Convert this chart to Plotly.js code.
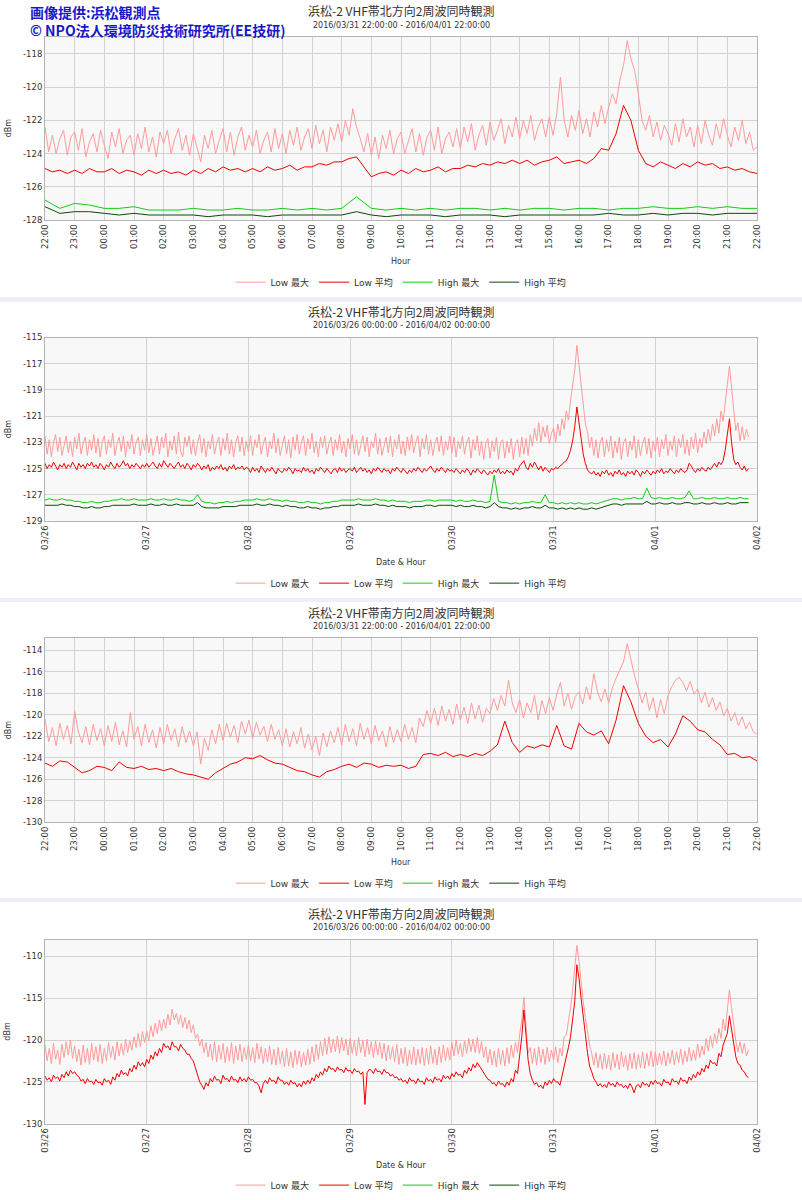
<!DOCTYPE html>
<html>
<head>
<meta charset="utf-8">
<script src="https://cdn.plot.ly/plotly-3.0.1.min.js"></script>
<style>
  body { margin: 0; background: #fff; width: 802px; }
  .panel { width: 802px; }
  .gap { width: 802px; background: #eeeef8; }
</style>
</head>
<body>
<div id="page"></div>
<script>
// legend names, same four in every panel
var seriesNames = ['Low 最大', 'Low 平均', 'High 最大', 'High 平均'];
var seriesColors = ['#ff9a9a', '#ee0000', '#11cc11', '#0a4a0a'];

var panelTitles = [
    '浜松-2 VHF帯北方向2周波同時観測',
    '浜松-2 VHF帯北方向2周波同時観測',
    '浜松-2 VHF帯南方向2周波同時観測',
    '浜松-2 VHF帯南方向2周波同時観測'
];
var panelPeriods = [
    '2016/03/31 22:00:00 - 2016/04/01 22:00:00',
    '2016/03/26 00:00:00 - 2016/04/02 00:00:00',
    '2016/03/31 22:00:00 - 2016/04/01 22:00:00',
    '2016/03/26 00:00:00 - 2016/04/02 00:00:00'
];
var xTitles = ['Hour', 'Date & Hour', 'Hour', 'Date & Hour'];

// ---- panel 1 : north, one day from 22:00 ----
// Low max every 7.5 min (one row = one hour)
var p1LowMax = [
    -122.4, -123.9, -122.9, -124.0, -123.1, -122.6, -124.1, -123.0,
    -122.7, -123.8, -122.5, -124.2, -123.3, -122.8, -123.9, -122.6,
    -123.5, -124.3, -122.7, -123.6, -122.5, -124.0, -123.2, -122.9,
    -124.1, -122.8, -123.7, -122.4, -123.9, -123.0, -124.2, -122.7,
    -123.4, -122.6, -124.0, -123.1, -122.5, -123.8, -122.9, -124.1,
    -122.8, -123.6, -124.5, -122.9, -123.7, -122.6, -124.0, -123.2,
    -122.5, -123.9, -122.7, -124.1, -123.0, -122.4, -123.8, -122.9,
    -123.6, -122.6, -124.0, -123.2, -122.7, -123.9, -122.5, -123.7,
    -122.8, -124.0, -122.6, -123.5, -122.4, -123.8, -123.0, -122.5,
    -123.7, -122.3, -123.4, -122.6, -123.9, -122.4, -123.2, -122.2,
    -123.3, -122.0, -122.9, -121.3, -122.4, -123.1, -123.9, -122.8,
    -124.1, -123.0, -124.3, -122.9, -123.7, -122.6, -124.0, -123.1,
    -122.7, -124.0, -123.2, -122.5, -123.9, -122.8, -124.1, -123.0,
    -122.6, -123.8, -122.4, -124.0, -123.1, -122.7, -123.6, -122.5,
    -123.7, -122.4, -123.3, -122.2, -123.8, -122.9, -122.3, -123.5,
    -122.1, -123.2, -122.6, -121.9, -123.4, -122.3, -123.0, -121.8,
    -123.1, -122.0, -122.8, -121.7, -123.2, -122.4, -121.9, -123.0,
    -121.8, -122.9, -121.6, -119.4, -122.0, -123.0, -121.7, -122.6,
    -121.4, -122.8, -121.9, -123.0, -121.5, -122.4, -121.1, -122.2,
    -121.2, -120.4, -121.0, -119.6, -118.7, -117.2, -118.3, -119.0,
    -120.4, -122.0, -122.6, -121.7, -123.0, -122.1, -123.2, -122.3,
    -122.8, -123.5, -122.2, -123.3, -121.9, -123.0, -122.4, -123.6,
    -122.3, -123.4, -122.0, -122.9, -123.5, -122.2, -123.1, -121.9,
    -122.9, -123.6, -122.4, -123.2, -122.0, -123.4, -122.7, -123.8,
    -123.6
];
// Low average every 15 min
var p1LowAvg = [
    -124.9, -125.1, -125.0, -125.2, -125.0, -125.2, -124.9, -125.1,
    -125.1, -124.9, -125.2, -125.0, -125.1, -125.3, -125.0, -125.2,
    -125.0, -125.2, -125.1, -125.3, -125.0, -125.2, -124.9, -125.1,
    -124.8, -125.0, -124.9, -125.1, -124.9, -125.1, -124.8, -125.0,
    -124.9, -124.7, -125.0, -124.8, -124.8, -124.6, -124.7, -124.5,
    -124.5, -124.3, -124.2, -124.8, -125.4, -125.2, -125.1, -125.3,
    -125.0, -125.2, -124.9, -125.1, -125.0, -124.8, -125.1, -124.9,
    -124.9, -124.7, -124.8, -124.6, -124.7, -124.5, -124.6, -124.4,
    -124.6, -124.4, -124.7, -124.5, -124.4, -124.2, -124.6, -124.5,
    -124.4, -124.6, -124.3, -123.7, -123.8, -122.8, -121.1, -122.0,
    -123.8, -124.6, -124.8, -124.5, -124.7, -124.9, -124.6, -124.8,
    -124.5, -124.7, -124.6, -124.9, -124.8, -125.0, -124.9, -125.1,
    -125.2
];
// High series every 30 min
var p1HighMax = [
    -126.8, -127.3, -127.0, -127.1, -127.3, -127.3, -127.2, -127.4,
    -127.4, -127.4, -127.3, -127.4, -127.4, -127.3, -127.4, -127.4,
    -127.3, -127.4, -127.3, -127.4, -127.3, -126.6, -127.3, -127.4,
    -127.3, -127.4, -127.3, -127.4, -127.3, -127.3, -127.4, -127.3,
    -127.4, -127.3, -127.3, -127.4, -127.3, -127.3, -127.4, -127.3,
    -127.3, -127.2, -127.3, -127.3, -127.2, -127.3, -127.2, -127.3,
    -127.3
];
var p1HighAvg = [
    -127.2, -127.6, -127.5, -127.5, -127.6, -127.7, -127.6, -127.7,
    -127.7, -127.7, -127.7, -127.8, -127.7, -127.7, -127.7, -127.8,
    -127.7, -127.7, -127.7, -127.7, -127.7, -127.5, -127.7, -127.8,
    -127.7, -127.7, -127.7, -127.8, -127.7, -127.7, -127.7, -127.8,
    -127.7, -127.7, -127.7, -127.7, -127.7, -127.7, -127.6, -127.7,
    -127.7, -127.6, -127.7, -127.6, -127.6, -127.7, -127.6, -127.6,
    -127.6
];

// ---- panel 2 : north, one week from 03/26 00:00 ----
// Low series every 30 min (four rows = one day)
var p2LowMax = [
    -122.5, -123.9, -122.8, -124.1, -123.0, -122.4, -123.7, -122.6, -124.0, -123.2, -122.5, -123.8,
    -122.9, -124.1, -122.6, -123.5, -122.3, -123.9, -123.1, -122.6, -124.0, -122.8, -123.6, -122.4,
    -123.8, -122.7, -124.1, -123.0, -122.5, -123.9, -122.8, -123.4, -122.3, -124.0, -123.1, -122.6,
    -123.7, -122.5, -124.1, -122.9, -123.5, -122.4, -123.9, -123.0, -122.6, -124.0, -122.8, -123.6,
    -122.4, -123.8, -122.7, -124.0, -123.1, -122.5, -123.9, -122.6, -123.4, -122.3, -124.1, -122.9,
    -123.6, -122.5, -123.9, -122.2, -123.7, -124.1, -122.6, -123.3, -122.5, -123.9, -122.8, -124.0,
    -123.0, -122.4, -123.8, -122.7, -124.1, -122.9, -123.5, -122.4, -123.9, -123.1, -122.6, -124.0,
    -122.7, -123.6, -122.3, -123.9, -122.8, -124.1, -123.0, -122.5, -123.7, -122.6, -124.0, -122.9,
    -123.7, -122.5, -124.0, -122.8, -123.4, -122.4, -123.9, -123.1, -122.6, -124.1, -122.9, -123.5,
    -122.3, -123.8, -122.7, -124.0, -123.2, -122.5, -123.9, -122.8, -124.2, -122.6, -123.6, -122.4,
    -123.9, -123.0, -122.5, -124.0, -122.7, -123.5, -122.3, -123.8, -122.9, -124.1, -122.6, -123.4,
    -122.5, -123.9, -123.1, -122.6, -124.0, -122.8, -123.6, -122.4, -123.8, -122.9, -124.1, -122.7,
    -123.5, -122.4, -123.9, -122.8, -124.0, -123.1, -122.5, -123.7, -122.6, -124.1, -122.9, -123.4,
    -122.3, -123.9, -122.7, -124.0, -123.2, -122.6, -123.8, -122.5, -124.1, -122.8, -123.5, -122.4,
    -123.9, -122.9, -124.0, -122.6, -123.6, -122.4, -123.8, -123.0, -122.5, -124.1, -122.7, -123.5,
    -122.4, -123.9, -122.8, -124.0, -123.1, -122.6, -123.7, -122.5, -124.0, -122.9, -123.6, -122.5,
    -123.8, -122.6, -124.1, -122.9, -123.5, -122.5, -123.9, -123.0, -122.6, -124.2, -122.8, -123.6,
    -122.5, -124.0, -122.9, -124.3, -123.1, -122.7, -124.2, -122.9, -123.7, -122.6, -124.3, -123.0,
    -122.8, -124.2, -122.9, -123.8, -122.7, -124.3, -123.1, -122.8, -124.1, -122.6, -123.9, -122.7,
    -124.0, -122.4, -123.3, -121.9, -122.9, -121.5, -123.0, -121.8, -122.6, -121.7, -123.1, -122.3,
    -121.9, -123.0, -121.6, -122.5, -121.2, -122.0, -120.6, -121.3, -119.8, -118.6, -117.5, -115.6,
    -117.2, -118.8, -120.4, -121.6, -122.2, -123.4, -122.6, -124.0, -122.8, -124.2, -123.0, -122.6,
    -124.1, -122.8, -123.7, -122.5, -124.2, -122.9, -123.8, -122.6, -124.3, -123.0, -122.7, -124.1,
    -122.9, -123.6, -122.5, -124.2, -122.8, -124.0, -123.1, -122.6, -123.9, -122.7, -124.2, -122.9,
    -123.7, -122.6, -124.1, -122.8, -123.5, -122.4, -124.0, -122.9, -123.6, -122.5, -124.1, -122.7,
    -123.4, -122.4, -123.9, -122.8, -124.0, -122.6, -123.5, -122.3, -123.8, -122.7, -123.4, -122.2,
    -123.1, -122.0, -122.9, -121.6, -122.5, -121.2, -122.3, -120.6, -121.4, -119.8, -118.6, -117.2,
    -119.0, -120.9, -122.1, -121.5, -122.9, -121.8, -122.8, -122.0, -122.6
];
var p2LowAvg = [
    -124.6, -125.0, -124.7, -124.9, -124.5, -124.8, -125.1, -124.7, -124.9, -124.6, -125.0, -124.7,
    -124.9, -124.5, -124.8, -125.1, -124.6, -124.9, -124.7, -125.0, -124.6, -124.8, -124.5, -124.9,
    -124.7, -125.0, -124.6, -124.8, -125.1, -124.7, -124.9, -124.5, -124.8, -125.0, -124.6, -124.9,
    -124.7, -124.4, -124.8, -124.6, -125.0, -124.7, -124.9, -124.6, -124.8, -125.0, -124.7, -124.9,
    -124.6, -124.9, -124.7, -124.5, -124.8, -125.0, -124.6, -124.9, -124.4, -124.7, -124.9, -124.6,
    -124.8, -125.0, -124.7, -124.5, -124.9, -124.7, -125.0, -124.6, -124.8, -125.1, -124.7, -124.9,
    -124.6, -124.8, -125.1, -124.8, -125.0, -124.7, -125.2, -124.9, -125.1, -124.8, -125.0, -124.7,
    -125.1, -124.9, -125.2, -124.8, -125.0, -124.7, -125.1, -124.9, -125.0, -124.8, -125.1, -124.9,
    -125.0, -125.3, -124.9, -125.2, -125.0, -125.3, -124.8, -125.1, -125.3, -125.0, -125.2, -124.9,
    -125.2, -125.4, -125.0, -125.2, -125.3, -125.0, -125.2, -124.9, -125.1, -125.4, -125.0, -125.2,
    -125.1, -125.3, -124.9, -125.2, -125.0, -125.3, -125.1, -125.4, -125.0, -125.2, -124.9, -125.1,
    -125.3, -125.0, -125.2, -125.4, -125.1, -125.0, -125.3, -124.9, -125.2, -125.0, -125.3, -125.1,
    -125.0, -125.2, -124.9, -125.3, -125.1, -124.9, -125.2, -125.0, -125.3, -125.1, -125.4, -125.0,
    -125.2, -124.9, -125.1, -125.3, -125.0, -125.2, -125.1, -125.4, -125.0, -125.2, -124.9, -125.1,
    -125.3, -125.0, -125.2, -125.4, -125.1, -125.3, -125.0, -125.2, -124.9, -125.1, -125.3, -125.0,
    -125.2, -125.0, -124.8, -125.1, -125.3, -125.0, -125.2, -124.9, -125.1, -125.3, -125.0, -125.2,
    -125.1, -125.3, -125.0, -125.2, -125.4, -125.1, -125.3, -125.0, -125.2, -125.5, -125.1, -125.3,
    -125.0, -125.2, -125.4, -125.1, -125.3, -125.5, -125.2, -125.4, -125.1, -125.3, -125.0, -125.4,
    -125.2, -125.4, -125.1, -125.3, -125.2, -125.5, -125.0, -125.2, -124.8, -124.6, -124.4, -124.9,
    -125.1, -124.6, -124.9, -124.5, -124.8, -125.1, -124.8, -125.2, -124.9, -125.1, -125.3, -125.0,
    -125.1, -124.9, -125.0, -124.8, -124.7, -124.5, -124.4, -124.1, -123.6, -122.9, -121.8, -120.3,
    -121.5, -122.8, -123.9, -124.6, -125.1, -125.3, -125.4, -125.2, -125.5, -125.3, -125.6, -125.2,
    -125.4, -125.1, -125.5, -125.3, -125.6, -125.2, -125.4, -125.1, -125.5, -125.3, -125.6, -125.2,
    -125.4, -125.2, -125.5, -125.1, -125.3, -125.6, -125.2, -125.4, -125.1, -125.3, -125.5, -125.2,
    -125.4, -125.1, -125.3, -125.0, -125.4, -125.2, -125.3, -125.0, -125.2, -125.4, -125.1, -125.3,
    -125.0, -125.2, -125.3, -125.1, -124.6, -124.8, -125.1, -125.3, -125.0, -125.2, -124.9, -125.1,
    -125.2, -124.9, -125.1, -124.8, -124.6, -124.9, -124.5, -124.7, -124.4, -123.6, -122.5, -121.2,
    -123.0, -124.3, -124.7, -124.5, -124.9, -125.1, -124.8, -125.2, -125.0
];
// High series every hour
var p2HighMax = [
    -127.4, -127.3, -127.4, -127.4, -127.3, -127.4, -127.4, -127.5, -127.5, -127.6, -127.6, -127.5,
    -127.6, -127.6, -127.5, -127.5, -127.4, -127.4, -127.3, -127.4, -127.4, -127.3, -127.4, -127.4,
    -127.4, -127.3, -127.4, -127.4, -127.3, -127.4, -127.4, -127.3, -127.4, -127.4, -127.5, -127.4,
    -127.0, -127.5, -127.6, -127.6, -127.7, -127.6, -127.6, -127.5, -127.6, -127.5, -127.5, -127.4,
    -127.4, -127.4, -127.3, -127.4, -127.4, -127.3, -127.4, -127.4, -127.5, -127.4, -127.5, -127.5,
    -127.6, -127.6, -127.5, -127.6, -127.6, -127.7, -127.6, -127.6, -127.5, -127.5, -127.4, -127.4,
    -127.4, -127.4, -127.3, -127.4, -127.4, -127.4, -127.3, -127.4, -127.4, -127.5, -127.4, -127.5,
    -127.5, -127.5, -127.6, -127.5, -127.5, -127.5, -127.4, -127.4, -127.5, -127.4, -127.4, -127.4,
    -127.4, -127.5, -127.4, -127.5, -127.5, -127.4, -127.5, -127.5, -127.6, -127.5, -125.5, -127.5,
    -127.6, -127.6, -127.7, -127.6, -127.7, -127.6, -127.6, -127.5, -127.6, -127.6, -127.0, -127.6,
    -127.6, -127.7, -127.6, -127.7, -127.6, -127.7, -127.6, -127.7, -127.7, -127.6, -127.7, -127.6,
    -127.5, -127.4, -127.3, -127.3, -127.4, -127.3, -127.3, -127.2, -127.3, -127.3, -126.5, -127.2,
    -127.3, -127.2, -127.3, -127.3, -127.2, -127.3, -127.3, -127.2, -126.7, -127.3, -127.3, -127.2,
    -127.3, -127.3, -127.2, -127.3, -127.3, -127.2, -127.3, -127.3, -127.2, -127.3, -127.3
];
var p2HighAvg = [
    -127.8, -127.8, -127.8, -127.8, -127.7, -127.8, -127.8, -127.9, -127.9, -128.0, -128.0, -127.9,
    -128.0, -128.0, -127.9, -127.9, -127.8, -127.8, -127.8, -127.8, -127.8, -127.7, -127.8, -127.8,
    -127.8, -127.7, -127.8, -127.8, -127.7, -127.8, -127.8, -127.7, -127.8, -127.8, -127.8, -127.8,
    -127.6, -127.9, -128.0, -128.0, -128.0, -128.0, -127.9, -127.9, -127.9, -127.9, -127.8, -127.8,
    -127.8, -127.8, -127.7, -127.8, -127.8, -127.7, -127.8, -127.8, -127.9, -127.8, -127.9, -127.9,
    -128.0, -128.0, -127.9, -128.0, -128.0, -128.1, -128.0, -128.0, -127.9, -127.9, -127.8, -127.8,
    -127.8, -127.8, -127.7, -127.8, -127.8, -127.8, -127.7, -127.8, -127.8, -127.9, -127.8, -127.9,
    -127.9, -127.9, -128.0, -127.9, -127.9, -127.9, -127.8, -127.8, -127.9, -127.8, -127.8, -127.8,
    -127.8, -127.9, -127.8, -127.9, -127.9, -127.8, -127.9, -127.9, -128.0, -127.9, -127.6, -127.9,
    -128.0, -128.0, -128.1, -128.0, -128.1, -128.0, -128.0, -127.9, -128.0, -128.0, -127.8, -128.0,
    -128.0, -128.1, -128.0, -128.1, -128.0, -128.1, -128.0, -128.1, -128.1, -128.0, -128.1, -128.0,
    -127.9, -127.8, -127.7, -127.7, -127.8, -127.7, -127.7, -127.7, -127.7, -127.7, -127.5, -127.7,
    -127.7, -127.6, -127.7, -127.7, -127.6, -127.7, -127.7, -127.6, -127.6, -127.7, -127.7, -127.6,
    -127.7, -127.7, -127.6, -127.7, -127.7, -127.6, -127.7, -127.7, -127.6, -127.6, -127.6
];

// ---- panel 3 : south, one day from 22:00 (no High data) ----
// Low max every 7.5 min (one row = one hour)
var p3LowMax = [
    -120.4, -122.5, -121.2, -122.9, -120.8, -122.3, -121.0, -122.7,
    -119.7, -121.6, -122.6, -121.1, -122.8, -120.9, -122.4, -121.3,
    -122.9, -121.0, -122.5, -120.7, -122.8, -121.5, -123.0, -119.8,
    -122.3, -121.1, -122.9, -120.9, -122.6, -121.4, -123.1, -121.2,
    -122.7, -120.9, -122.4, -121.3, -123.0, -121.1, -122.6, -121.5,
    -122.9, -121.6, -124.6, -122.2, -123.3, -121.4, -122.7, -120.9,
    -122.4, -120.8, -122.1, -121.0, -122.6, -120.6, -121.8, -120.5,
    -122.2, -120.7, -121.9, -121.1, -122.5, -120.9, -122.3, -121.4,
    -122.9, -121.3, -123.0, -121.6, -122.7, -121.2, -123.1, -121.8,
    -123.3, -122.0, -123.8, -121.7, -123.0, -121.5, -122.6, -121.2,
    -122.8, -120.9, -122.5, -121.3, -122.9, -120.8, -122.3, -121.2,
    -122.7, -121.0, -122.4, -121.5, -123.0, -121.1, -122.6, -121.4,
    -122.5, -120.9, -122.3, -121.2, -122.6, -120.3, -121.1, -119.6,
    -120.8, -119.4, -121.0, -119.2, -120.6, -119.5, -120.9, -119.0,
    -120.5, -119.3, -120.8, -118.9, -120.4, -119.1, -120.7, -119.4,
    -119.9, -118.5, -119.6, -118.2, -119.2, -116.8, -118.9, -119.8,
    -118.6, -120.3, -118.9, -119.8, -118.2, -120.5, -118.7, -119.9,
    -118.4, -119.6, -118.1, -117.0, -119.2, -118.0, -119.5, -118.3,
    -117.9, -119.0, -117.4, -118.6, -116.2, -117.9, -118.8, -117.6,
    -118.9, -117.5, -116.6, -115.8, -115.1, -113.4, -115.0, -116.4,
    -117.6, -118.9, -117.9, -119.6, -118.4, -120.3, -118.6, -119.9,
    -118.2, -117.4, -116.8, -116.5, -117.0, -117.8, -116.9, -118.1,
    -117.6, -118.9, -117.9, -119.3, -118.4, -119.6, -118.8, -120.1,
    -119.4, -120.6, -119.8, -121.0, -120.2, -121.3, -120.7, -121.6,
    -121.8
];
// Low average every 15 min
var p3LowAvg = [
    -124.5, -124.8, -124.3, -124.4, -124.9, -125.4, -125.2, -124.8,
    -124.9, -125.2, -124.4, -124.9, -125.0, -124.8, -125.1, -125.0,
    -125.2, -125.0, -125.3, -125.5, -125.6, -125.8, -126.0, -125.4,
    -125.0, -124.6, -124.4, -124.0, -124.1, -123.8, -124.2, -124.5,
    -124.6, -124.9, -125.2, -125.3, -125.6, -125.8, -125.3, -125.1,
    -124.8, -124.6, -124.9, -124.5, -124.6, -124.9, -124.7, -124.8,
    -124.7, -125.0, -124.8, -123.7, -123.6, -123.8, -123.5, -123.9,
    -123.7, -123.9, -123.6, -123.8, -123.4, -122.8, -120.6, -122.6,
    -123.5, -122.9, -123.1, -122.8, -123.0, -121.0, -122.9, -123.2,
    -120.8, -121.6, -121.9, -121.5, -122.7, -120.5, -117.3, -118.8,
    -120.8, -122.0, -122.6, -122.3, -123.0, -121.8, -120.1, -120.6,
    -121.4, -121.6, -122.3, -122.8, -123.7, -123.6, -124.0, -123.9,
    -124.3
];

// ---- panel 4 : south, one week from 03/26 00:00 (no High data) ----
// Low series every 30 min (four rows = one day)
var p4LowMax = [
    -120.6, -122.5, -121.0, -122.8, -120.4, -122.3, -121.2, -122.9, -120.5, -122.1, -120.2, -121.8,
    -120.0, -122.2, -120.7, -122.6, -121.1, -123.0, -120.6, -122.7, -121.0, -122.9, -120.4, -122.4,
    -120.8, -122.6, -120.5, -122.8, -121.0, -122.5, -120.3, -122.1, -120.7, -122.4, -120.2, -121.9,
    -120.4, -121.8, -119.9, -121.5, -120.1, -121.2, -119.6, -120.9, -119.2, -120.8, -119.0, -120.3,
    -118.9, -120.1, -118.3, -119.6, -118.0, -119.2, -117.6, -118.9, -117.5, -118.6, -116.9, -118.2,
    -116.3, -117.6, -116.8, -118.1, -117.0, -118.5, -117.3, -118.7, -117.6, -119.1, -118.2, -119.8,
    -119.3, -120.7, -119.9, -121.5, -120.3, -122.0, -120.5, -122.4, -120.2, -122.6, -120.6, -122.3,
    -120.4, -122.7, -120.8, -122.5, -120.3, -122.8, -120.7, -122.4, -120.5, -122.6, -120.9, -122.3,
    -120.6, -122.5, -120.9, -122.7, -120.4, -122.3, -120.8, -122.8, -121.0, -122.6, -120.7, -122.9,
    -121.1, -123.0, -120.9, -122.8, -121.3, -123.2, -121.0, -123.1, -121.4, -123.3, -121.2, -122.9,
    -121.3, -123.2, -121.5, -123.0, -121.1, -122.9, -120.8, -122.6, -120.5, -122.3, -120.2, -121.9,
    -119.8, -121.7, -119.6, -121.5, -119.9, -121.4, -119.5, -121.6, -119.7, -121.3, -119.9, -121.8,
    -119.8, -121.6, -120.1, -121.9, -119.7, -121.5, -120.0, -122.0, -119.9, -121.7, -120.2, -122.1,
    -120.1, -121.8, -120.3, -122.2, -120.4, -122.5, -120.6, -122.3, -120.8, -122.6, -120.5, -122.9,
    -121.0, -122.8, -120.9, -123.1, -121.2, -122.9, -120.8, -123.0, -121.1, -122.8, -120.9, -123.1,
    -121.0, -122.9, -120.7, -122.8, -121.1, -123.0, -120.8, -122.7, -120.6, -122.5, -120.9, -122.4,
    -120.3, -121.9, -120.0, -121.7, -120.4, -122.0, -120.1, -121.6, -119.8, -121.4, -119.9, -121.5,
    -119.7, -121.6, -120.2, -122.1, -120.8, -122.7, -121.1, -123.0, -121.3, -123.2, -121.0, -122.9,
    -121.2, -123.1, -120.9, -122.8, -120.6, -122.1, -120.3, -121.5, -119.4, -117.6, -114.9, -118.0,
    -121.6, -120.9, -122.8, -121.0, -123.0, -120.8, -122.7, -121.1, -122.9, -120.9, -122.6, -121.2,
    -122.4, -120.8, -122.7, -121.0, -121.9, -119.6, -119.4, -117.8, -116.2, -114.0, -111.4, -108.7,
    -110.6, -113.2, -115.4, -117.3, -118.9, -120.6, -121.6, -123.0, -121.5, -123.3, -121.7, -123.5,
    -121.6, -123.4, -121.8, -123.6, -121.5, -123.3, -121.7, -123.5, -121.4, -123.2, -121.8, -123.6,
    -121.6, -123.4, -121.5, -123.5, -121.7, -123.3, -121.4, -123.4, -121.6, -123.1, -121.3, -123.2,
    -121.4, -123.0, -121.6, -122.9, -121.3, -123.1, -121.5, -122.8, -121.2, -123.0, -121.4, -122.7,
    -121.1, -122.9, -121.3, -122.6, -120.9, -122.5, -121.2, -122.4, -120.5, -122.1, -120.7, -121.8,
    -119.8, -121.3, -119.5, -120.9, -119.2, -120.4, -118.6, -119.8, -117.5, -118.9, -116.4, -114.0,
    -116.2, -118.4, -120.1, -121.4, -120.2, -121.6, -120.4, -121.9, -121.2
];
var p4LowAvg = [
    -124.3, -124.8, -124.5, -125.0, -124.2, -124.6, -124.4, -124.9, -124.1, -124.5, -123.8, -124.3,
    -123.6, -124.0, -123.8, -124.2, -124.4, -124.9, -124.7, -125.2, -124.6, -125.0, -124.9, -125.3,
    -124.7, -125.1, -125.0, -125.4, -124.6, -125.0, -124.8, -125.3, -124.4, -124.8, -124.0, -124.4,
    -123.6, -124.1, -123.9, -124.3, -123.4, -123.8, -123.0, -123.5, -122.6, -123.1, -122.7, -123.2,
    -122.3, -122.8, -121.8, -122.3, -121.4, -121.9, -121.0, -121.5, -120.4, -120.9, -120.7, -121.2,
    -120.2, -120.8, -120.8, -121.3, -120.5, -121.0, -121.2, -121.7, -121.7, -122.2, -122.5, -123.3,
    -124.3, -125.0, -125.4, -125.9, -125.1, -125.5, -124.6, -125.0, -124.3, -124.8, -124.7, -125.2,
    -124.2, -124.7, -124.6, -125.0, -124.3, -124.8, -124.7, -125.1, -124.4, -124.9, -124.6, -125.0,
    -124.4, -124.8, -124.7, -125.1, -125.1, -125.5, -126.3, -125.2, -124.8, -125.2, -124.5, -124.9,
    -124.8, -125.2, -124.4, -124.8, -124.8, -125.3, -125.0, -125.4, -124.8, -125.2, -125.1, -125.6,
    -125.2, -125.6, -124.9, -125.3, -124.8, -125.2, -124.5, -124.9, -124.1, -124.5, -123.8, -124.2,
    -123.4, -123.8, -123.1, -123.5, -123.4, -123.8, -123.2, -123.6, -123.5, -123.9, -123.3, -123.7,
    -123.6, -124.0, -123.4, -123.8, -123.7, -124.1, -123.8, -127.7, -123.9, -123.5, -123.6, -124.0,
    -123.4, -123.8, -123.7, -124.1, -123.5, -123.9, -123.9, -124.3, -124.1, -124.5, -124.4, -124.8,
    -124.6, -125.0, -124.8, -125.2, -124.5, -124.9, -124.8, -125.2, -124.6, -125.0, -124.9, -125.3,
    -124.5, -124.9, -124.7, -125.1, -124.4, -124.8, -124.6, -125.0, -124.2, -124.6, -124.3, -124.7,
    -124.0, -124.4, -123.8, -124.2, -124.1, -124.5, -123.6, -124.0, -123.3, -123.7, -122.9, -123.3,
    -122.7, -123.1, -123.4, -123.9, -124.3, -124.7, -124.8, -125.2, -125.1, -125.5, -124.9, -125.3,
    -125.2, -125.6, -125.0, -125.4, -124.6, -125.0, -123.6, -124.0, -121.8, -119.6, -116.4, -119.5,
    -122.4, -124.0, -124.8, -125.3, -125.1, -125.6, -125.4, -125.8, -125.0, -125.4, -124.8, -125.2,
    -124.6, -125.0, -125.0, -125.4, -124.3, -123.0, -122.2, -120.9, -119.6, -117.5, -115.4, -111.0,
    -112.6, -115.0, -116.9, -119.3, -121.5, -123.1, -123.8, -124.6, -125.0, -125.5, -125.2, -125.6,
    -125.3, -125.7, -125.0, -125.4, -125.2, -125.6, -125.0, -125.4, -125.3, -125.7, -125.4, -125.8,
    -125.2, -125.6, -126.3, -125.5, -125.3, -125.7, -125.0, -125.4, -125.2, -125.6, -124.9, -125.3,
    -124.8, -125.2, -125.1, -125.5, -124.7, -125.1, -125.0, -125.4, -124.6, -125.0, -124.9, -125.3,
    -124.5, -124.9, -124.8, -125.2, -124.4, -124.8, -124.1, -124.5, -123.8, -124.2, -123.4, -123.8,
    -123.0, -123.4, -122.4, -122.8, -122.7, -123.1, -121.6, -122.0, -120.6, -119.8, -119.2, -117.1,
    -118.6, -120.2, -122.0, -122.8, -123.0, -123.6, -123.8, -124.3, -124.5
];

// y axis ranges and tick steps per panel
var yRanges = [[-128, -116.95], [-129, -115], [-130, -112.9], [-130, -108]];
var yTickSteps = [2, 2, 2, 5];

// builds the time stamps for a series: start, step in minutes, count
function timeAxis(start, stepMin, n) {
    var t0 = Date.parse(start.replace(' ', 'T') + ':00Z');
    var out = [];
    for (var i = 0; i < n; i++) {
        out.push(new Date(t0 + i * stepMin * 60000).toISOString().slice(0, 19).replace('T', ' '));
    }
    return out;
}

// tick values from the bottom of the range, labelled with a plain hyphen minus
function yTicks(r, step) {
    var v = [];
    for (var t = r[0]; t <= r[1] + 1e-9; t += step) v.push(t);
    return v;
}

var panels = [
    {start: '2016-03-31 22:00', steps: [7.5, 15, 30, 30], data: [p1LowMax, p1LowAvg, p1HighMax, p1HighAvg],
     range: ['2016-03-31 22:00', '2016-04-01 22:00'], dtick: 3600000, fmt: '%H:%M'},
    {start: '2016-03-26 00:00', steps: [30, 30, 60, 60], data: [p2LowMax, p2LowAvg, p2HighMax, p2HighAvg],
     range: ['2016-03-26 00:00', '2016-04-02 00:00'], dtick: 86400000, fmt: '%m/%d'},
    {start: '2016-03-31 22:00', steps: [7.5, 15, 30, 30], data: [p3LowMax, p3LowAvg, [], []],
     range: ['2016-03-31 22:00', '2016-04-01 22:00'], dtick: 3600000, fmt: '%H:%M'},
    {start: '2016-03-26 00:00', steps: [30, 30, 60, 60], data: [p4LowMax, p4LowAvg, [], []],
     range: ['2016-03-26 00:00', '2016-04-02 00:00'], dtick: 86400000, fmt: '%m/%d'}
];

// pixel rows inside each panel block
var panelHeights = [297, 296, 296, 298];
var gapHeights = [5, 4, 4];
var plotTop = [37, 36, 37, 38];
var plotBottom = [223, 222, 224, 224];
var titleRow = [11, 10, 11, 12];
var periodRow = [26, 24, 25, 26];
var xTitleRow = [265, 264, 265, 266];
var legendRow = [286, 285, 286, 286];

var tickFont = {family: 'DejaVu Sans', size: 8.5, color: '#333'};
var page = document.getElementById('page');

panels.forEach(function (p, k) {
    var H = panelHeights[k];
    function py(px) { return 1 - px / H; }

    var div = document.createElement('div');
    div.className = 'panel';
    div.style.height = H + 'px';
    page.appendChild(div);
    if (k < 3) {
        var gap = document.createElement('div');
        gap.className = 'gap';
        gap.style.height = gapHeights[k] + 'px';
        page.appendChild(gap);
    }

    var traces = [];
    for (var s = 0; s < 4; s++) {
        var ys = p.data[s];
        // a series with no data still keeps its legend entry
        var xs = ys.length ? timeAxis(p.start, p.steps[s], ys.length) : [p.range[0]];
        traces.push({
            x: xs,
            y: ys.length ? ys : [null],
            name: seriesNames[s],
            type: 'scatter', mode: 'lines',
            line: {color: seriesColors[s], width: 1},
            hoverinfo: 'skip'
        });
    }

    var yt = yTicks(yRanges[k], yTickSteps[k]);
    var layout = {
        width: 802, height: H,
        margin: {l: 0, r: 0, t: 0, b: 0},
        paper_bgcolor: '#ffffff',
        plot_bgcolor: '#f8f8f8',
        showlegend: true,
        xaxis: {
            domain: [45 / 802, 757 / 802],
            type: 'date', range: p.range, tick0: p.range[0], dtick: p.dtick, tickformat: p.fmt,
            tickangle: -90, tickfont: tickFont, ticks: '',
            showgrid: true, gridcolor: '#d2d2d2', gridwidth: 1,
            showline: true, linecolor: '#b4b4b4', linewidth: 1, mirror: true,
            zeroline: false, fixedrange: true
        },
        yaxis: {
            domain: [py(plotBottom[k]), py(plotTop[k])],
            range: yRanges[k], tickmode: 'array', tickvals: yt, ticktext: yt.map(String),
            tickfont: tickFont, ticks: '',
            showgrid: true, gridcolor: '#d2d2d2', gridwidth: 1,
            showline: true, linecolor: '#b4b4b4', linewidth: 1, mirror: true,
            zeroline: false, fixedrange: true
        },
        legend: {
            orientation: 'h', x: 0.5, xanchor: 'center', y: py(legendRow[k]), yanchor: 'middle',
            font: {family: 'DejaVu Sans, Noto Sans CJK JP', size: 9, color: '#333'},
            bgcolor: 'rgba(0,0,0,0)', itemwidth: 30
        },
        annotations: [
            {text: panelTitles[k], xref: 'paper', yref: 'paper', x: 0.5, y: py(titleRow[k]),
             xanchor: 'center', yanchor: 'middle', showarrow: false,
             font: {family: 'Noto Sans CJK JP', size: 12, color: '#333'}},
            {text: panelPeriods[k], xref: 'paper', yref: 'paper', x: 0.5, y: py(periodRow[k]),
             xanchor: 'center', yanchor: 'middle', showarrow: false,
             font: {family: 'DejaVu Sans', size: 8, color: '#333'}},
            {text: xTitles[k], xref: 'paper', yref: 'paper', x: 0.5, y: py(xTitleRow[k]),
             xanchor: 'center', yanchor: 'middle', showarrow: false,
             font: {family: 'DejaVu Sans', size: 8, color: '#333'}},
            {text: 'dBm', xref: 'paper', yref: 'paper', x: 8 / 802, y: py((plotTop[k] + plotBottom[k]) / 2),
             xanchor: 'center', yanchor: 'middle', showarrow: false, textangle: -90,
             font: {family: 'DejaVu Sans', size: 8, color: '#333'}}
        ]
    };

    // credit stamped in the top left corner of the first panel
    if (k === 0) {
        layout.annotations.push(
            {text: '<b>画像提供:浜松観測点</b>', xref: 'paper', yref: 'paper', x: 28 / 802, y: py(12),
             xanchor: 'left', yanchor: 'middle', showarrow: false,
             font: {family: 'Noto Sans CJK JP', size: 14, color: '#1818c8'}},
            {text: '<b>© NPO法人環境防災技術研究所(EE技研)</b>', xref: 'paper', yref: 'paper', x: 28 / 802, y: py(30),
             xanchor: 'left', yanchor: 'middle', showarrow: false,
             font: {family: 'Noto Sans CJK JP', size: 14, color: '#1818c8'}}
        );
    }

    Plotly.newPlot(div, traces, layout, {displayModeBar: false, staticPlot: true});
});
</script>
</body>
</html>
